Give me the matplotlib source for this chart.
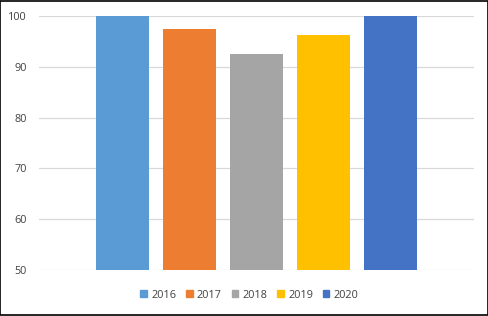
import matplotlib.pyplot as plt
from matplotlib.patches import Patch

years = ["2016", "2017", "2018", "2019", "2020"]
values = [100, 97.4, 92.6, 96.3, 100]
colors = ["#5B9BD5", "#ED7D31", "#A5A5A5", "#FFC000", "#4472C4"]
yticks = [50, 60, 70, 80, 90, 100]

plt.rcParams['font.family'] = ['Open Sans', 'DejaVu Sans']

fig = plt.figure(figsize=(4.89, 3.16), dpi=100)
ax = fig.add_axes([39/489, 1-270/316, 435/489, 254/316])

x = list(range(len(years)))
ax.bar(x, values, width=0.79, color=colors, zorder=3)

ax.set_ylim(50, 100)
ax.set_xlim(-1.246, 5.246)
ax.set_yticks(yticks)
ax.set_xticks([])
ax.grid(True, axis='y', color='#D9D9D9', linewidth=0.9, zorder=0)
for s in ax.spines.values():
    s.set_visible(False)
ax.tick_params(axis='y', length=0, pad=9, labelsize=7.8, labelcolor='#404040')

handles = [Patch(color=c) for c in colors]
fig.legend(handles, years, loc='center', bbox_to_anchor=(0.51, 1-295/316), ncol=5,
           frameon=False, fontsize=7.8, handlelength=0.6, handleheight=0.6,
           handletextpad=0.4, columnspacing=0.9, labelcolor='#404040')

# outer border
fig.patches.append(plt.Rectangle((0.001, 0.002), 0.997, 0.996, transform=fig.transFigure,
                                 fill=False, edgecolor='black', linewidth=1.2))

fig.savefig("out.png", dpi=100)
